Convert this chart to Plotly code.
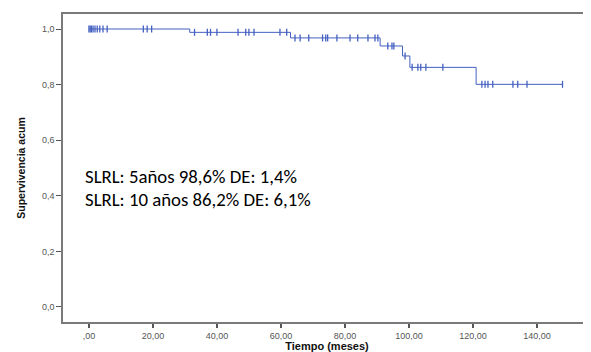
import plotly.graph_objects as go

# Kaplan-Meier step function (event times and survival after each event)
step_times = [0, 31.5, 63, 91, 98, 100.3, 121, 148]
survival = [1.0, 0.988, 0.968, 0.939, 0.903, 0.862, 0.801, 0.801]

# censored observations (months)
censor_times = [0, 0.4, 0.8, 1.3, 1.9, 2.6, 3.4, 4.4, 5.7, 17, 18.2, 19.6,
                33, 37, 38, 40, 46.6, 49, 50, 51.6, 59.7, 61.8,
                64.4, 66, 68.7, 73, 74, 74.6, 77.5, 81.6, 84, 87.2, 89.4, 90.3,
                93.4, 94.7, 95.3, 98.8, 101, 102.8, 103.7, 105.3, 110.6,
                122.8, 123.8, 124.7, 126.2, 132.5, 134, 136.9, 148]

x_tickvals = [0, 20, 40, 60, 80, 100, 120, 140]
x_ticktext = [",00", "20,00", "40,00", "60,00", "80,00", "100,00", "120,00", "140,00"]
y_tickvals = [0, 0.2, 0.4, 0.6, 0.8, 1.0]
y_ticktext = ["0,0", "0,2", "0,4", "0,6", "0,8", "1,0"]

notes = ["SLRL: 5años 98,6% DE: 1,4%", "SLRL: 10 años 86,2% DE: 6,1%"]
note_y = [0.468, 0.385]


def surv_at(t):
    s = survival[0]
    for tt, ss in zip(step_times, survival):
        if t >= tt:
            s = ss
    return s


censor_vals = [surv_at(t) for t in censor_times]

blue = "#4460c0"
fig = go.Figure()
fig.add_trace(go.Scatter(x=step_times, y=survival, mode="lines",
                         line=dict(color=blue, width=1, shape="hv"),
                         hoverinfo="skip", showlegend=False))
fig.add_trace(go.Scatter(x=censor_times, y=censor_vals, mode="markers",
                         marker=dict(symbol="line-ns", size=5,
                                     line=dict(color=blue, width=1.3)),
                         showlegend=False))

for txt, yy in zip(notes, note_y):
    fig.add_annotation(x=-1.9, y=yy, xref="x", yref="y", text=txt,
                       showarrow=False, xanchor="left", yanchor="middle",
                       font=dict(family="Carlito, Lato, Open Sans", size=18.8, color="black"))

axis_col = "#7a7a7a"
fig.update_layout(
    width=583, height=344,
    margin=dict(l=55, r=0, t=6, b=30),
    paper_bgcolor="white", plot_bgcolor="white",
    xaxis=dict(range=[-8.1, 156.9], tickvals=x_tickvals, ticktext=x_ticktext,
               automargin=False,
               showgrid=False, zeroline=False, showline=True, linecolor=axis_col,
               linewidth=1.5, mirror=True, ticks="outside", ticklen=4,
               tickcolor="#555", tickwidth=1.5,
               tickfont=dict(family="Liberation Sans, Arial", size=9, color="#555"),
               title=dict(text="<b>Tiempo (meses)</b>", standoff=0,
                          font=dict(family="Liberation Sans, Arial", size=11, color="#111"))),
    yaxis=dict(range=[-0.054, 1.054], tickvals=y_tickvals, ticktext=y_ticktext,
               automargin=False,
               showgrid=False, zeroline=False, showline=True, linecolor=axis_col,
               linewidth=1.5, ticks="outside", ticklen=5, tickcolor="#555",
               tickwidth=1, tickfont=dict(family="Liberation Sans, Arial", size=9, color="#555"),
               title=dict(text="<b>Supervivencia acum</b>", standoff=14,
                          font=dict(family="Liberation Sans Narrow, Arial Narrow, Liberation Sans",
                                    size=10.5, color="#111"))),
)

fig.write_html("out.html")
